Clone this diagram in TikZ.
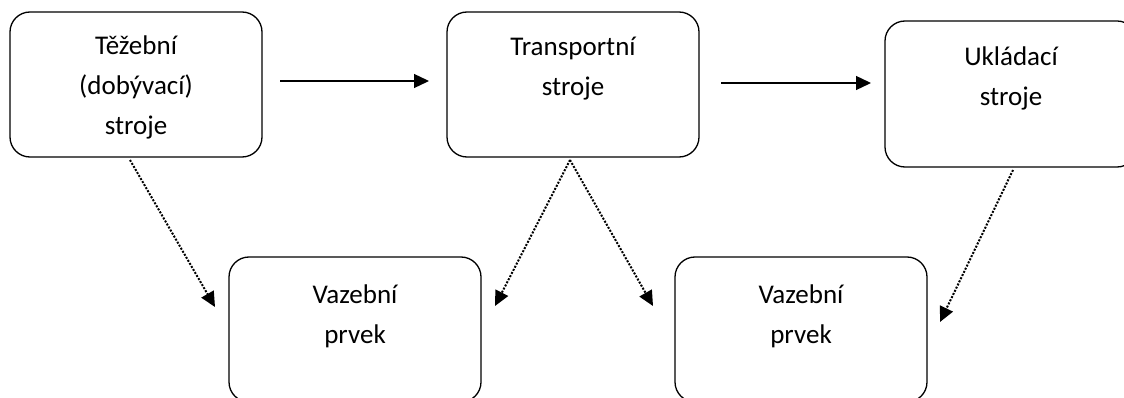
\documentclass[tikz,border=0pt]{standalone}
\usepackage{fontspec}
\setmainfont{Carlito}
\usetikzlibrary{arrows.meta}

\tikzset{
  unitbox/.style={draw, line width=1.3pt, rounded corners=20pt,
    minimum width=252pt, minimum height=145pt, inner sep=0pt},
  % anchored at the baseline of the last line
  caption/.style={align=center, anchor=base, inner sep=0pt,
    font=\fontsize{27}{40}\selectfont},
  flow/.style={line width=1.3pt, -{Triangle[length=15pt,width=14pt]}},
  link/.style={line width=2pt, dash pattern=on 2pt off 1.5pt,
    -{Triangle[length=15pt,width=14pt]}}
}

\begin{document}
\begin{tikzpicture}[x=1pt,y=-1pt]
  \clip (0,0) rectangle (1124,398);
  \fill[white] (0,0) rectangle (1124,398);

  % machine chain
  \node[unitbox] (mine)  at (136,84.5) {};
  \node[unitbox] (trans) at (573,84.5) {};
  \node[unitbox, minimum height=146pt] (store) at (1011,94) {};
  % coupling elements
  \node[unitbox] (linkA) at (355,329.5) {};
  \node[unitbox] (linkB) at (801,329.5) {};

  \node[caption] (mineT)  at (136,135) {Těžební\\(dobývací)\\stroje};
  \node[caption] (transT) at (573,96)  {Transportní\\stroje};
  \node[caption] (storeT) at (1011,106) {Ukládací\\stroje};
  \node[caption] (linkAT) at (355,343) {Vazební\\prvek};
  \node[caption] (linkBT) at (801,343) {Vazební\\prvek};

  % connector end points
  \coordinate (f1s) at (280,81);  \coordinate (f1e) at (429,81);
  \coordinate (f2s) at (721,83);  \coordinate (f2e) at (871,83);
  \coordinate (d1s) at (130,160); \coordinate (d1e) at (215,307);
  \coordinate (d2s) at (570,160); \coordinate (d2e) at (495,306);
  \coordinate (d3e) at (653,306);
  \coordinate (d4s) at (1013,170); \coordinate (d4e) at (940,322);

  \draw[flow] (f1s) -- (f1e);
  \draw[flow] (f2s) -- (f2e);

  \draw[link] (d1s) -- (d1e);
  \draw[link] (d2s) -- (d2e);
  \draw[link] (d2s) -- (d3e);
  \draw[link] (d4s) -- (d4e);
\end{tikzpicture}
\end{document}
